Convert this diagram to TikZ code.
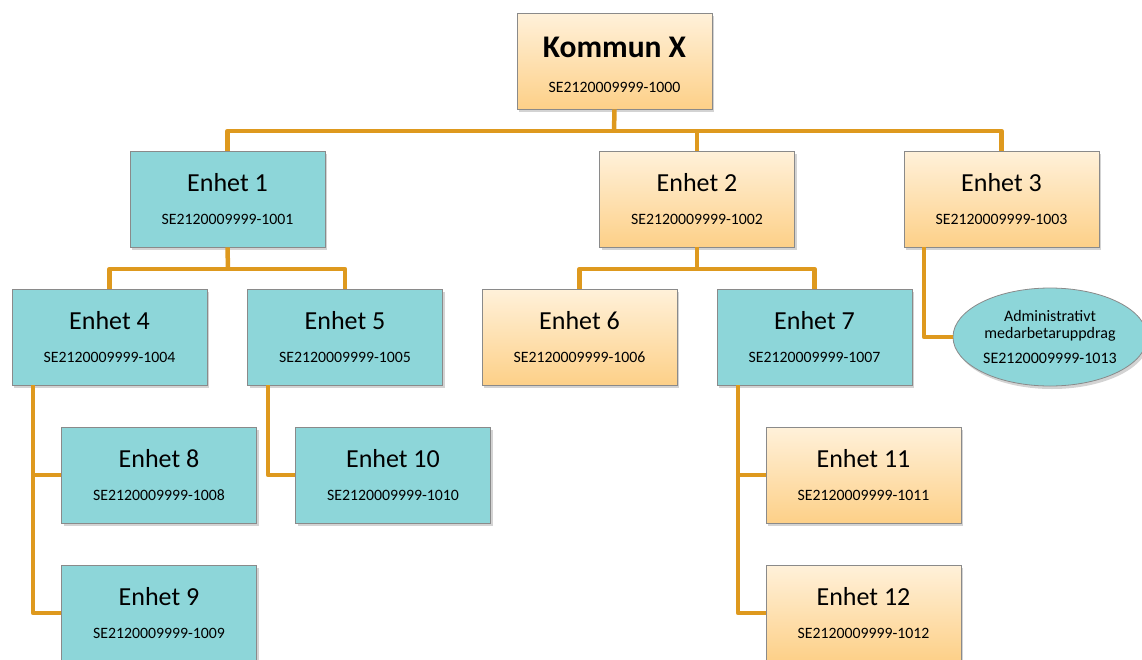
\documentclass[tikz,border=0pt]{standalone}
\usepackage{fontspec}
\setmainfont{Carlito}
\usetikzlibrary{shapes.geometric,shadows}
\definecolor{teal1}{HTML}{8DD6D9}
\definecolor{orTop}{HTML}{FFF1DA}
\definecolor{orBot}{HTML}{FDD088}
\definecolor{link}{HTML}{DE991E}
\definecolor{edge}{HTML}{8A8A8A}
\tikzset{
  unit/.style={draw=edge, line width=0.8pt, minimum width=195pt, minimum height=96pt,
    align=center, inner sep=0pt, drop shadow={shadow xshift=2pt, shadow yshift=-3pt, opacity=0.35}},
  tealbox/.style={unit, fill=teal1},
  orbox/.style={unit, top color=orTop, bottom color=orBot},
  conn/.style={draw=link, line width=4.5pt, line join=round}
}
\newcommand{\ent}[2]{{\fontsize{26}{28}\selectfont #1}\\[21pt]{\fontsize{15.8}{18}\selectfont #2}}
\begin{document}
\begin{tikzpicture}[x=1pt,y=-1pt]
\useasboundingbox (0,0) rectangle (1142,659);
\coordinate (j0) at (614,131);
\coordinate (j1) at (228,269);
\coordinate (j2) at (697,269);
% nodes
\node[orbox] (k) at (614.5,61) {};
\node[align=center, inner sep=0pt] (kt) at (614.5,65) {{\fontsize{31.5}{34}\selectfont\bfseries Kommun X}\\[23pt]{\fontsize{15.8}{18}\selectfont SE2120009999-1000}};
\node[tealbox] (e1) at (227.5,199) {\ent{Enhet 1}{SE2120009999-1001}};
\node[orbox] (e2) at (697,199) {\ent{Enhet 2}{SE2120009999-1002}};
\node[orbox] (e3) at (1001.5,199) {\ent{Enhet 3}{SE2120009999-1003}};
\node[tealbox] (e4) at (109.5,337) {\ent{Enhet 4}{SE2120009999-1004}};
\node[tealbox] (e5) at (345,337) {\ent{Enhet 5}{SE2120009999-1005}};
\node[orbox] (e6) at (579.5,337) {\ent{Enhet 6}{SE2120009999-1006}};
\node[tealbox] (e7) at (814.5,337) {\ent{Enhet 7}{SE2120009999-1007}};
\node[ellipse, draw=edge, line width=0.8pt, fill=teal1, minimum width=194pt, minimum height=98pt, inner sep=0pt, align=center, font=\fontsize{16}{17}\selectfont, drop shadow={shadow xshift=2pt, shadow yshift=-3pt, opacity=0.35}] (adm) at (1050,337) {Administrativt\\medarbetaruppdrag\\[8pt]SE2120009999-1013};
\node[tealbox] (e8) at (159,475) {\ent{Enhet 8}{SE2120009999-1008}};
\node[tealbox] (e10) at (393,475) {\ent{Enhet 10}{SE2120009999-1010}};
\node[orbox] (e11) at (863.5,475) {\ent{Enhet 11}{SE2120009999-1011}};
\node[tealbox] (e9) at (159,613) {\ent{Enhet 9}{SE2120009999-1009}};
\node[orbox] (e12) at (863.5,613) {\ent{Enhet 12}{SE2120009999-1012}};
% connectors
\draw[conn] (k.south) -- (j0);
\draw[conn] (e1.north) -- (e1.north |- j0) -- (e3.north |- j0) -- (e3.north);
\draw[conn] (e2.north) -- (e2.north |- j0);
\draw[conn] (e1.south) -- (j1);
\draw[conn] (e4.north) -- (e4.north |- j1) -- (e5.north |- j1) -- (e5.north);
\draw[conn] (e2.south) -- (j2);
\draw[conn] (e6.north) -- (e6.north |- j2) -- (e7.north |- j2) -- (e7.north);
\coordinate (s3) at (924,0);
\draw[conn] (e3.south -| s3) -- (s3 |- adm.west) -- (adm.west);
\coordinate (s4) at (33,0);
\draw[conn] (e4.south -| s4) -- (s4 |- e9.west) -- (e9.west);
\draw[conn] (s4 |- e8.west) -- (e8.west);
\coordinate (s5) at (268,0);
\draw[conn] (e5.south -| s5) -- (s5 |- e10.west) -- (e10.west);
\coordinate (s7) at (738,0);
\draw[conn] (e7.south -| s7) -- (s7 |- e12.west) -- (e12.west);
\draw[conn] (s7 |- e11.west) -- (e11.west);
\end{tikzpicture}
\end{document}
